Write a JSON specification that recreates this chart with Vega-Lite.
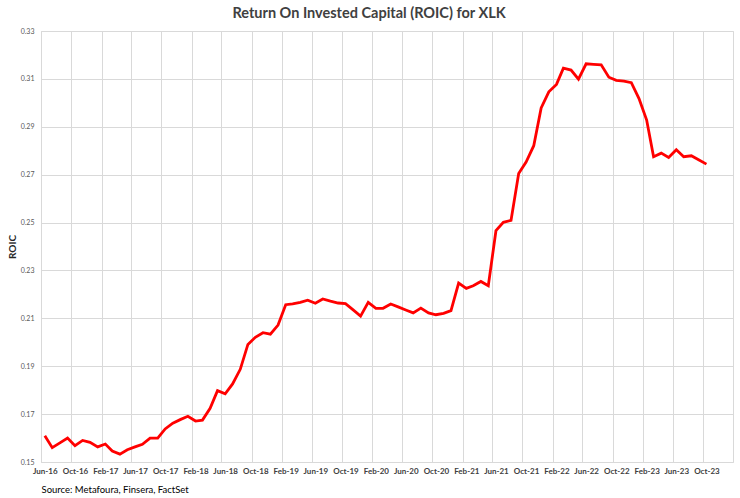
{
  "$schema": "https://vega.github.io/schema/vega-lite/v6.json",
  "width": 692,
  "height": 431,
  "autosize": "none",
  "padding": {"left": 41, "top": 31, "right": 7, "bottom": 36},
  "background": "white",
  "title": {"text": "Return On Invested Capital (ROIC) for XLK", "font": "Lato", "fontSize": 14.5, "fontWeight": "bold", "color": "#404040", "anchor": "middle", "dx": -18, "offset": 6},
  "config": {"view": {"stroke": "#d9d9d9", "strokeWidth": 1}, "font": "Lato"},
  "data": {"values": [
    {"month": "2016-06-01T00:00:00", "roic": 0.161},
    {"month": "2016-07-01T00:00:00", "roic": 0.156},
    {"month": "2016-08-01T00:00:00", "roic": 0.158},
    {"month": "2016-09-01T00:00:00", "roic": 0.160},
    {"month": "2016-10-01T00:00:00", "roic": 0.1568},
    {"month": "2016-11-01T00:00:00", "roic": 0.159},
    {"month": "2016-12-01T00:00:00", "roic": 0.1582},
    {"month": "2017-01-01T00:00:00", "roic": 0.1563},
    {"month": "2017-02-01T00:00:00", "roic": 0.1575},
    {"month": "2017-03-01T00:00:00", "roic": 0.1546},
    {"month": "2017-04-01T00:00:00", "roic": 0.1533},
    {"month": "2017-05-01T00:00:00", "roic": 0.1551},
    {"month": "2017-06-01T00:00:00", "roic": 0.1563},
    {"month": "2017-07-01T00:00:00", "roic": 0.1574},
    {"month": "2017-08-01T00:00:00", "roic": 0.160},
    {"month": "2017-09-01T00:00:00", "roic": 0.160},
    {"month": "2017-10-01T00:00:00", "roic": 0.1638},
    {"month": "2017-11-01T00:00:00", "roic": 0.1662},
    {"month": "2017-12-01T00:00:00", "roic": 0.1677},
    {"month": "2018-01-01T00:00:00", "roic": 0.1691},
    {"month": "2018-02-01T00:00:00", "roic": 0.1671},
    {"month": "2018-03-01T00:00:00", "roic": 0.1675},
    {"month": "2018-04-01T00:00:00", "roic": 0.1724},
    {"month": "2018-05-01T00:00:00", "roic": 0.1798},
    {"month": "2018-06-01T00:00:00", "roic": 0.1785},
    {"month": "2018-07-01T00:00:00", "roic": 0.1826},
    {"month": "2018-08-01T00:00:00", "roic": 0.1887},
    {"month": "2018-09-01T00:00:00", "roic": 0.1991},
    {"month": "2018-10-01T00:00:00", "roic": 0.2021},
    {"month": "2018-11-01T00:00:00", "roic": 0.2040},
    {"month": "2018-12-01T00:00:00", "roic": 0.2034},
    {"month": "2019-01-01T00:00:00", "roic": 0.2072},
    {"month": "2019-02-01T00:00:00", "roic": 0.2157},
    {"month": "2019-03-01T00:00:00", "roic": 0.2160},
    {"month": "2019-04-01T00:00:00", "roic": 0.2167},
    {"month": "2019-05-01T00:00:00", "roic": 0.2176},
    {"month": "2019-06-01T00:00:00", "roic": 0.2163},
    {"month": "2019-07-01T00:00:00", "roic": 0.2181},
    {"month": "2019-08-01T00:00:00", "roic": 0.2172},
    {"month": "2019-09-01T00:00:00", "roic": 0.2164},
    {"month": "2019-10-01T00:00:00", "roic": 0.2161},
    {"month": "2019-11-01T00:00:00", "roic": 0.2135},
    {"month": "2019-12-01T00:00:00", "roic": 0.2109},
    {"month": "2020-01-01T00:00:00", "roic": 0.2167},
    {"month": "2020-02-01T00:00:00", "roic": 0.2142},
    {"month": "2020-03-01T00:00:00", "roic": 0.2142},
    {"month": "2020-04-01T00:00:00", "roic": 0.2160},
    {"month": "2020-05-01T00:00:00", "roic": 0.2148},
    {"month": "2020-06-01T00:00:00", "roic": 0.2135},
    {"month": "2020-07-01T00:00:00", "roic": 0.2123},
    {"month": "2020-08-01T00:00:00", "roic": 0.2143},
    {"month": "2020-09-01T00:00:00", "roic": 0.2123},
    {"month": "2020-10-01T00:00:00", "roic": 0.2115},
    {"month": "2020-11-01T00:00:00", "roic": 0.2121},
    {"month": "2020-12-01T00:00:00", "roic": 0.2132},
    {"month": "2021-01-01T00:00:00", "roic": 0.2247},
    {"month": "2021-02-01T00:00:00", "roic": 0.2225},
    {"month": "2021-03-01T00:00:00", "roic": 0.2236},
    {"month": "2021-04-01T00:00:00", "roic": 0.2254},
    {"month": "2021-05-01T00:00:00", "roic": 0.2236},
    {"month": "2021-06-01T00:00:00", "roic": 0.2466},
    {"month": "2021-07-01T00:00:00", "roic": 0.2501},
    {"month": "2021-08-01T00:00:00", "roic": 0.2509},
    {"month": "2021-09-01T00:00:00", "roic": 0.2705},
    {"month": "2021-10-01T00:00:00", "roic": 0.2753},
    {"month": "2021-11-01T00:00:00", "roic": 0.2821},
    {"month": "2021-12-01T00:00:00", "roic": 0.2979},
    {"month": "2022-01-01T00:00:00", "roic": 0.3046},
    {"month": "2022-02-01T00:00:00", "roic": 0.3077},
    {"month": "2022-03-01T00:00:00", "roic": 0.3145},
    {"month": "2022-04-01T00:00:00", "roic": 0.3137},
    {"month": "2022-05-01T00:00:00", "roic": 0.3099},
    {"month": "2022-06-01T00:00:00", "roic": 0.3163},
    {"month": "2022-07-01T00:00:00", "roic": 0.3161},
    {"month": "2022-08-01T00:00:00", "roic": 0.3159},
    {"month": "2022-09-01T00:00:00", "roic": 0.3107},
    {"month": "2022-10-01T00:00:00", "roic": 0.3094},
    {"month": "2022-11-01T00:00:00", "roic": 0.3091},
    {"month": "2022-12-01T00:00:00", "roic": 0.3084},
    {"month": "2023-01-01T00:00:00", "roic": 0.3018},
    {"month": "2023-02-01T00:00:00", "roic": 0.2928},
    {"month": "2023-03-01T00:00:00", "roic": 0.2775},
    {"month": "2023-04-01T00:00:00", "roic": 0.2790},
    {"month": "2023-05-01T00:00:00", "roic": 0.2772},
    {"month": "2023-06-01T00:00:00", "roic": 0.2804},
    {"month": "2023-07-01T00:00:00", "roic": 0.2775},
    {"month": "2023-08-01T00:00:00", "roic": 0.2779},
    {"month": "2023-09-01T00:00:00", "roic": 0.2761},
    {"month": "2023-10-01T00:00:00", "roic": 0.2744}
  ]},
  "mark": {"type": "line", "color": "#ff0000", "strokeWidth": 2.8},
  "encoding": {
    "x": {
      "field": "month",
      "type": "temporal",
      "scale": {"domain": [{"year": 2016, "month": 5, "date": 16, "hours": 12}, {"year": 2024, "month": 1, "date": 16, "hours": 12}]},
      "axis": {
        "values": [
          {"year": 2016, "month": 6, "date": 1}, {"year": 2016, "month": 10, "date": 1},
          {"year": 2017, "month": 2, "date": 1}, {"year": 2017, "month": 6, "date": 1}, {"year": 2017, "month": 10, "date": 1},
          {"year": 2018, "month": 2, "date": 1}, {"year": 2018, "month": 6, "date": 1}, {"year": 2018, "month": 10, "date": 1},
          {"year": 2019, "month": 2, "date": 1}, {"year": 2019, "month": 6, "date": 1}, {"year": 2019, "month": 10, "date": 1},
          {"year": 2020, "month": 2, "date": 1}, {"year": 2020, "month": 6, "date": 1}, {"year": 2020, "month": 10, "date": 1},
          {"year": 2021, "month": 2, "date": 1}, {"year": 2021, "month": 6, "date": 1}, {"year": 2021, "month": 10, "date": 1},
          {"year": 2022, "month": 2, "date": 1}, {"year": 2022, "month": 6, "date": 1}, {"year": 2022, "month": 10, "date": 1},
          {"year": 2023, "month": 2, "date": 1}, {"year": 2023, "month": 6, "date": 1}, {"year": 2023, "month": 10, "date": 1}
        ],
        "format": "%b-%y",
        "tickOffset": -3.75,
        "labelOffset": 3.75,
        "ticks": false,
        "domain": false,
        "grid": true,
        "gridColor": "#d9d9d9",
        "gridWidth": 1,
        "labelFont": "Lato",
        "labelFontSize": 8,
        "labelFontWeight": "bold",
        "labelColor": "#404040",
        "labelAngle": 0,
        "labelPadding": 5,
        "labelOverlap": false,
        "labelFlush": false,
        "title": "Source: Metafoura, Finsera, FactSet",
        "titleAnchor": "start",
        "titleFont": "Lato",
        "titleFontSize": 9.5,
        "titleFontWeight": "normal",
        "titleColor": "#000000",
        "titlePadding": 9
      }
    },
    "y": {
      "field": "roic",
      "type": "quantitative",
      "scale": {"domain": [0.15, 0.33], "nice": false, "zero": false},
      "axis": {
        "values": [0.15, 0.17, 0.19, 0.21, 0.23, 0.25, 0.27, 0.29, 0.31, 0.33],
        "format": ".2f",
        "ticks": false,
        "domain": false,
        "grid": true,
        "gridColor": "#d9d9d9",
        "gridWidth": 1,
        "labelFont": "Lato",
        "labelFontSize": 7,
        "labelColor": "#595959",
        "labelPadding": 7,
        "title": "ROIC",
        "titleFont": "Lato",
        "titleFontSize": 10,
        "titleFontWeight": "bold",
        "titleColor": "#262626",
        "titlePadding": 3
      }
    }
  }
}
